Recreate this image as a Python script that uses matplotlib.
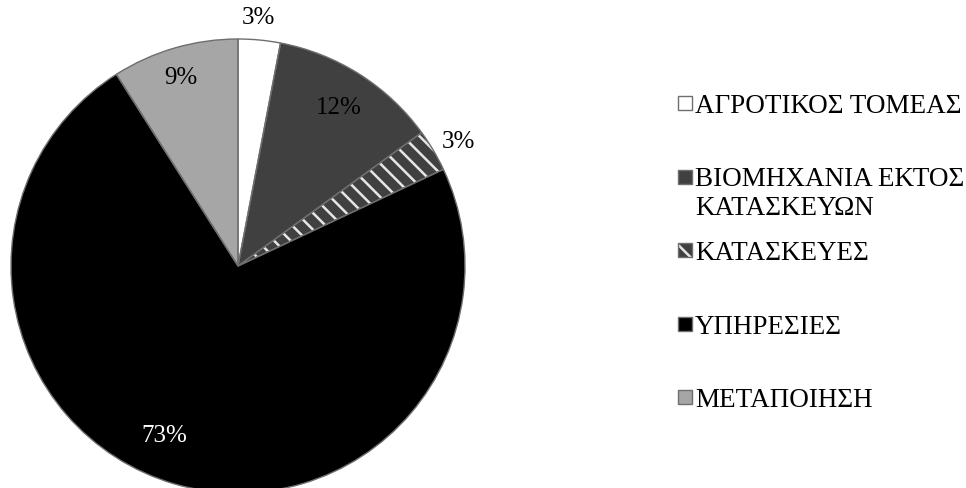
import matplotlib.pyplot as plt
import numpy as np
from matplotlib.patches import Rectangle

plt.rcParams['font.family'] = ['Liberation Serif', 'DejaVu Serif']
plt.rcParams['hatch.linewidth'] = 1.8

sectors = ['ΑΓΡΟΤΙΚΟΣ ΤΟΜΕΑΣ', 'ΒΙΟΜΗΧΑΝΙΑ ΕΚΤΟΣ\nΚΑΤΑΣΚΕΥΩΝ', 'ΚΑΤΑΣΚΕΥΕΣ',
           'ΥΠΗΡΕΣΙΕΣ', 'ΜΕΤΑΠΟΙΗΣΗ']
shares = [3, 12, 3, 73, 9]
pct_labels = ['3%', '12%', '3%', '73%', '9%']

fills = ['#ffffff', '#404040', '#404040', '#000000', '#a6a6a6']
hatches = [None, None, '\\\\', None, None]
text_cols = ['black', 'black', 'black', 'white', 'black']
# label distance (fraction of radius) and angular nudge in degrees
lab_r = [1.10, 0.83, 1.115, 0.81, 0.87]
lab_da = [0.8, 0, -1.0, -7.3, 0.6]

W, H = 966, 489
fig = plt.figure(figsize=(W / 100, H / 100), dpi=100)
# pie centre (238, 267) px, radius 227 px
cx, cy, R = 238, 267, 227
ax = fig.add_axes([(cx - R) / W, (H - cy - R) / H, 2 * R / W, 2 * R / H])

wedges, _ = ax.pie(shares, colors=fills, startangle=90, counterclock=False,
                   wedgeprops=dict(linewidth=0))
for w, h in zip(wedges, hatches):
    if h:
        w.set_hatch(h)
        w.set_edgecolor('#e6e6e6')
        w.set_linewidth(0)

# outlines on top
outl, _ = ax.pie(shares, colors=['none'] * len(shares), startangle=90, counterclock=False,
                 wedgeprops=dict(linewidth=1.0, edgecolor='#6e6e6e', fill=False))

for w, t, r, da, c in zip(wedges, pct_labels, lab_r, lab_da, text_cols):
    mid = np.deg2rad((w.theta1 + w.theta2) / 2 + da)
    ax.text(r * np.cos(mid), r * np.sin(mid), t, ha='center', va='center',
            fontsize=18, color=c)

ax.set_xlim(-1, 1)
ax.set_ylim(-1, 1)
ax.set_aspect('equal')
ax.axis('off')

# legend drawn by hand, Excel style
leg_top = 95
leg_step = 73.5
sq = 14
for i, (name, f, h) in enumerate(zip(sectors, fills, hatches)):
    ytop = leg_top + i * leg_step
    x0, y0 = 678 / W, (H - ytop - 2 - sq) / H
    if h:
        fig.add_artist(Rectangle((x0, y0), sq / W, sq / H, transform=fig.transFigure,
                                 facecolor=f, edgecolor='#e6e6e6', linewidth=0, hatch='\\'))
    else:
        fig.add_artist(Rectangle((x0, y0), sq / W, sq / H, transform=fig.transFigure,
                                 facecolor=f, linewidth=0))
    fig.add_artist(Rectangle((x0, y0), sq / W, sq / H, transform=fig.transFigure,
                             fill=False, edgecolor='#6e6e6e', linewidth=1.0))
    fig.text(695 / W, (H - ytop + 1) / H, name, ha='left', va='top',
             fontsize=19.5, linespacing=1.17)

fig.savefig('out.png', dpi=100)
